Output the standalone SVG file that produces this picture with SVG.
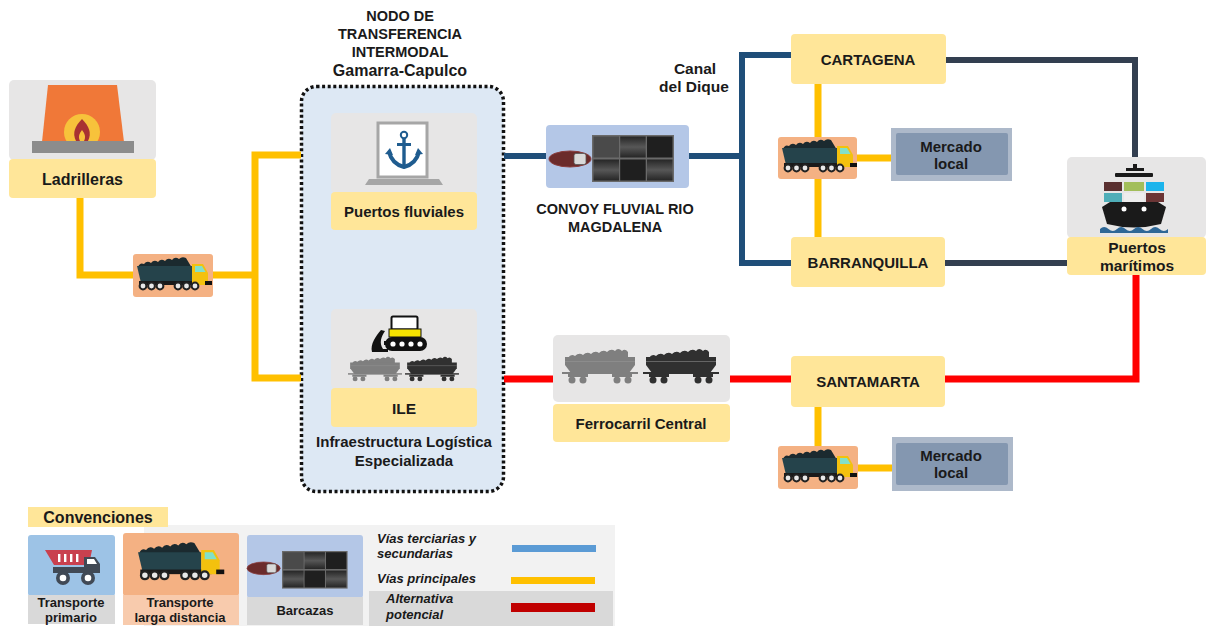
<svg xmlns="http://www.w3.org/2000/svg" width="1207" height="626" viewBox="0 0 1207 626">
  <defs>
    <style>
      .t { font-family: "Liberation Sans", Arial, sans-serif; font-weight: 700; fill: #1a1a1a; text-anchor: middle; }
      .ti { font-family: "Liberation Sans", Arial, sans-serif; font-weight: 700; font-style: italic; fill: #1a1a1a; }
      .bg { fill: #E7E6E6; }
      .tag { fill: #FFE699; }
      .haul { fill: #F4B183; }
      .road { stroke: #FFC000; stroke-width: 7; fill: none; }
      .river { stroke: #1F4E79; stroke-width: 6; fill: none; }
      .sea { stroke: #333F50; stroke-width: 6; fill: none; }
      .rail { stroke: #FF0000; stroke-width: 7; fill: none; }
      .mkt-o { fill: #ADB9CA; }
      .mkt-i { fill: #8497B0; }
    </style>
    <linearGradient id="cellShade" x1="0" y1="0" x2="0" y2="1">
      <stop offset="0" stop-color="#262626"/>
      <stop offset="0.5" stop-color="#575757"/>
      <stop offset="1" stop-color="#262626"/>
    </linearGradient>
    <!-- long-haul coal truck, drawn in an 80x43 frame -->
    <g id="truck">
      <path d="M5,13 q2,-5 6,-3 q3,-4 7,-1 q3,-4 7,-1 q3,-4 7,-1 q3,-4 7,-1 q3,-4 7,-1 q3,-3 7,-1 L59,14 L5,14 Z" fill="#1b2a2f"/>
      <path d="M4,12 H59 V29 H8 Z" fill="#25434B"/>
      <rect x="6" y="27" width="62" height="4" fill="#1a1a1a"/>
      <path d="M59,10 H70 L75,19 V31 H59 Z" fill="#F3C10E"/>
      <path d="M62,12 H69 L72.5,18 H62 Z" fill="#82E0C9"/>
      <rect x="72" y="27" width="7" height="4" fill="#111"/>
      <g fill="#E8E8E8" stroke="#222" stroke-width="2">
        <circle cx="10" cy="32" r="3.4"/>
        <circle cx="18.5" cy="32" r="3.4"/>
        <circle cx="27" cy="32" r="3.4"/>
        <circle cx="45" cy="32" r="3.4"/>
        <circle cx="53.5" cy="32" r="3.4"/>
        <circle cx="62" cy="32" r="3.4"/>
      </g>
    </g>
    <!-- hopper wagon, 76x33 frame, colour taken from the use element -->
    <g id="wagon">
      <path d="M6,6 q3,-5 7,-2 q4,-4 8,-1 q4,-4 8,-1 q4,-4 8,-1 q4,-4 8,-1 q4,-4 8,-1 q3,-4 7,0 q3,-3 6,1 V8 H6 Z"/>
      <path d="M3,5 H73 V13 L67,21 H9 L3,13 Z"/>
      <rect x="3" y="9" width="70" height="1" fill="#9a9a9a" opacity="0.5"/>
      <rect x="0" y="20" width="76" height="2"/>
      <rect x="6" y="22" width="20" height="3"/>
      <rect x="50" y="22" width="20" height="3"/>
      <circle cx="10" cy="28" r="3.5"/>
      <circle cx="21" cy="28" r="3.5"/>
      <circle cx="55" cy="28" r="3.5"/>
      <circle cx="66" cy="28" r="3.5"/>
    </g>
    <!-- barge block of 3x2 holds, 82x47 frame -->
    <g id="barges">
      <rect x="0" y="0" width="82" height="47" fill="#6a6a6a"/>
      <rect x="1.5" y="1.5" width="25.5" height="21" fill="#4a4a4a"/>
      <rect x="28.2" y="1.5" width="25.5" height="21" fill="url(#cellShade)"/>
      <rect x="55" y="1.5" width="25.5" height="21" fill="#1f1f1f"/>
      <rect x="1.5" y="24.5" width="25.5" height="21" fill="url(#cellShade)"/>
      <rect x="28.2" y="24.5" width="25.5" height="21" fill="#1f1f1f"/>
      <rect x="55" y="24.5" width="25.5" height="21" fill="url(#cellShade)"/>
    </g>
    <!-- push tug -->
    <g id="tug">
      <ellipse cx="21" cy="8" rx="21" ry="8" fill="#6B2B2B" stroke="#8a3d3d" stroke-width="1"/>
      <rect x="25" y="2.5" width="12" height="11" rx="2" fill="#D9D9D9" stroke="#555" stroke-width="0.8"/>
    </g>
  </defs>

  <!-- intermodal transfer node container -->
  <g id="nodo-transferencia">
    <rect x="301.5" y="86.5" width="202" height="405" rx="15" fill="#DDE8F4" stroke="#111" stroke-width="3.5" stroke-dasharray="3 2.6"/>
    <text class="t" font-size="14.5" x="400" y="21">NODO DE</text>
    <text class="t" font-size="14.5" x="400" y="39">TRANSFERENCIA</text>
    <text class="t" font-size="14.5" x="400" y="57">INTERMODAL</text>
    <text class="t" font-size="16" x="400" y="76">Gamarra-Capulco</text>
  </g>

  <!-- connectors -->
  <g id="connectors">
    <!-- main roads (yellow) -->
    <path class="road" d="M80,197 V275 H134"/>
    <path class="road" d="M212,275 H255"/>
    <path class="road" d="M301,155 H255 V378 H301"/>
    <path class="road" d="M818,84 V237"/>
    <path class="road" d="M856,158 H892"/>
    <path class="road" d="M818,407 V446"/>
    <path class="road" d="M857,468 H892"/>
    <!-- Magdalena river and Canal del Dique (blue) -->
    <path class="river" d="M504,156 H546"/>
    <path class="river" d="M689,156 H742"/>
    <path class="river" d="M791,55 H742 V263 H791"/>
    <!-- links to sea ports (dark slate) -->
    <path class="sea" d="M946,60 H1135 V157"/>
    <path class="sea" d="M945,263 H1067"/>
    <!-- potential rail alternative (red) -->
    <path class="rail" d="M504,379 H553"/>
    <path class="rail" d="M730,379 H791"/>
    <path class="rail" d="M945,379 H1136 V275"/>
  </g>

  <!-- brickworks -->
  <g id="ladrilleras">
    <rect class="bg" x="9" y="80" width="147" height="80" rx="5"/>
    <rect class="tag" x="9" y="159" width="147" height="39" rx="4"/>
    <path d="M48,85 H117 L124,142 H42 Z" fill="#F07838"/>
    <circle cx="82" cy="132" r="18" fill="#F7C23B"/>
    <path d="M82,119 C75,126 72,133 76,141 L88,141 C92,133 89,126 82,119 Z" fill="#A83232"/>
    <path d="M82,130 C79,134 78,137 80,141 L84,141 C86,137 85,134 82,130 Z" fill="#F7C23B"/>
    <rect x="32" y="141" width="102" height="12" fill="#8C8C8C"/>
    <text class="t" font-size="16" x="82.5" y="185">Ladrilleras</text>
  </g>

  <!-- truck between brickworks and the node -->
  <g id="camion-origen">
    <rect class="haul" x="133" y="254" width="80" height="43" rx="3"/>
    <use href="#truck" x="133" y="254"/>
  </g>

  <!-- river ports -->
  <g id="puertos-fluviales">
    <rect class="bg" x="331" y="113" width="146" height="80" rx="5"/>
    <rect class="tag" x="331" y="192" width="146" height="38" rx="4"/>
    <path d="M369,179 H439 L443,185 H365 Z" fill="#A6A6A6"/>
    <rect x="378" y="123" width="49" height="54" fill="#FFFFFF" stroke="#A6A6A6" stroke-width="3"/>
    <g fill="#1F5C8F" stroke="#1F5C8F">
      <circle cx="404" cy="135" r="3.2" fill="none" stroke-width="2"/>
      <rect x="402.3" y="138" width="3.4" height="28" stroke="none"/>
      <rect x="397" y="143" width="14" height="3" stroke="none"/>
      <path d="M389,152 Q392,164 404,167 Q416,164 419,152" fill="none" stroke-width="4"/>
      <path d="M385,154 L390,148 L393,155 Z" stroke="none"/>
      <path d="M423,154 L418,148 L415,155 Z" stroke="none"/>
    </g>
    <text class="t" font-size="15" x="404" y="217">Puertos fluviales</text>
  </g>

  <!-- specialised logistics infrastructure -->
  <g id="ile">
    <rect class="bg" x="331" y="309" width="146" height="80" rx="5"/>
    <rect class="tag" x="331" y="388" width="146" height="39" rx="4"/>
    <path d="M372,352 C370,344 376,336 381,330 L385,331 C381,337 379,343 383,349 L388,349 L388,352 Z" fill="#111"/>
    <rect x="384" y="341" width="6" height="4" fill="#111"/>
    <rect x="391.5" y="316.5" width="26" height="13" rx="1.5" fill="#FFFFFF" stroke="#111" stroke-width="2"/>
    <rect x="389" y="329" width="32" height="8" fill="#F5E200" stroke="#111" stroke-width="1"/>
    <rect x="385" y="337" width="42" height="14" rx="7" fill="#111"/>
    <g fill="#FFFFFF">
      <circle cx="393" cy="344" r="2.6"/>
      <circle cx="402" cy="344" r="2.6"/>
      <circle cx="411" cy="344" r="2.6"/>
      <circle cx="420" cy="344" r="2.6"/>
    </g>
    <use href="#wagon" transform="translate(348,359) scale(0.71)" fill="#7F7F7F"/>
    <use href="#wagon" transform="translate(405,359) scale(0.71)" fill="#303030"/>
    <text class="t" font-size="15.5" x="404" y="414">ILE</text>
    <text class="t" font-size="15" x="404" y="447">Infraestructura Logística</text>
    <text class="t" font-size="15" x="404" y="466">Especializada</text>
  </g>

  <!-- Magdalena river convoy -->
  <g id="convoy">
    <rect x="546" y="125" width="143" height="63" rx="4" fill="#B4C7E7"/>
    <use href="#tug" x="549" y="151"/>
    <use href="#barges" x="592" y="135"/>
    <text class="t" font-size="14.5" x="615" y="214">CONVOY FLUVIAL RIO</text>
    <text class="t" font-size="14.5" x="615" y="232">MAGDALENA</text>
  </g>

  <g id="canal-del-dique">
    <text class="t" font-size="15.5" x="695" y="74">Canal</text>
    <text class="t" font-size="15.5" x="694" y="92">del Dique</text>
  </g>

  <g id="cartagena">
    <rect class="tag" x="791" y="34" width="155" height="50" rx="4"/>
    <text class="t" font-size="15" x="868" y="65">CARTAGENA</text>
  </g>

  <g id="camion-cartagena">
    <rect class="haul" x="778" y="137" width="79" height="42" rx="3"/>
    <use href="#truck" x="778" y="136"/>
  </g>

  <g id="mercado-norte">
    <rect class="mkt-o" x="891" y="128" width="121" height="53"/>
    <rect class="mkt-i" x="896" y="133" width="112" height="42" rx="2"/>
    <text class="t" font-size="15" x="951" y="152">Mercado</text>
    <text class="t" font-size="15" x="951" y="169">local</text>
  </g>

  <g id="barranquilla">
    <rect class="tag" x="791" y="237" width="154" height="50" rx="4"/>
    <text class="t" font-size="15" x="868" y="268">BARRANQUILLA</text>
  </g>

  <!-- sea ports -->
  <g id="puertos-maritimos">
    <rect class="bg" x="1067" y="157" width="139" height="81" rx="5"/>
    <rect class="tag" x="1067" y="237" width="139" height="38" rx="4"/>
    <rect x="1133" y="164" width="4" height="7" fill="#1a1a1a"/>
    <rect x="1126" y="168" width="18" height="3" fill="#1a1a1a"/>
    <rect x="1115" y="173" width="38" height="4" rx="1" fill="#1a1a1a"/>
    <rect x="1104" y="182" width="18" height="9" fill="#5A3030"/>
    <rect x="1124" y="182" width="20" height="9" fill="#A2BE5A"/>
    <rect x="1146" y="182" width="18" height="9" fill="#1CB4EC"/>
    <rect x="1104" y="193" width="18" height="9" fill="#4FAEB8"/>
    <rect x="1124" y="193" width="20" height="9" fill="#EDEDED"/>
    <rect x="1146" y="193" width="18" height="9" fill="#6B3535"/>
    <path d="M1110,202 H1158 L1166,207 L1161,224 Q1134,231 1107,224 L1102,207 Z" fill="#1a1a1a"/>
    <circle cx="1124" cy="209" r="2.5" fill="#FFFFFF"/>
    <circle cx="1144" cy="209" r="2.5" fill="#FFFFFF"/>
    <path d="M1100,229 q4,-4 8.5,0 t8.5,0 t8.5,0 t8.5,0 t8.5,0 t8.5,0 t8.5,0 t8.5,0 V233 H1100 Z" fill="#2E6796"/>
    <text class="t" font-size="15.5" x="1137" y="253">Puertos</text>
    <text class="t" font-size="15.5" x="1137" y="271">marítimos</text>
  </g>

  <!-- central railway -->
  <g id="ferrocarril">
    <rect class="bg" x="553" y="335" width="177" height="67" rx="5"/>
    <rect class="tag" x="553" y="404" width="177" height="38" rx="4"/>
    <use href="#wagon" x="562" y="352" fill="#7F7F7F"/>
    <use href="#wagon" x="643" y="352" fill="#303030"/>
    <text class="t" font-size="15" x="641" y="429">Ferrocarril Central</text>
  </g>

  <g id="santamarta">
    <rect class="tag" x="791" y="356" width="154" height="51" rx="4"/>
    <text class="t" font-size="15" x="868" y="387">SANTAMARTA</text>
  </g>

  <g id="camion-santamarta">
    <rect class="haul" x="778" y="446" width="80" height="43" rx="3"/>
    <use href="#truck" x="778" y="446"/>
  </g>

  <g id="mercado-sur">
    <rect class="mkt-o" x="892" y="437" width="121" height="54"/>
    <rect class="mkt-i" x="896" y="443" width="112" height="42" rx="2"/>
    <text class="t" font-size="15" x="951" y="461">Mercado</text>
    <text class="t" font-size="15" x="951" y="478">local</text>
  </g>

  <!-- legend -->
  <g id="convenciones">
    <rect x="144" y="525" width="471" height="101" fill="#F2F2F2"/>
    <rect x="28" y="507" width="140" height="20" fill="#FFE699"/>
    <text class="t" font-size="16" x="98" y="523">Convenciones</text>

    <!-- primary haulage -->
    <rect x="28" y="535" width="87" height="61" rx="3" fill="#9DC3E6"/>
    <rect x="28" y="595" width="87" height="29" fill="#D9D9D9"/>
    <path d="M45,550 H92 L89,565 H54 Z" fill="#C9414F"/>
    <g fill="#FFFFFF">
      <rect x="58" y="554" width="2.4" height="8"/>
      <rect x="64" y="554" width="2.4" height="8"/>
      <rect x="70" y="554" width="2.4" height="8"/>
      <rect x="76" y="554" width="2.4" height="8"/>
    </g>
    <path d="M84,557 H95 L100,564 V573 H84 Z" fill="#404955"/>
    <path d="M87,559 H94 L97,564 H87 Z" fill="#FFFFFF"/>
    <rect x="53" y="567" width="47" height="6" fill="#404955"/>
    <circle cx="63" cy="578" r="7" fill="#404955"/>
    <circle cx="63" cy="578" r="3.3" fill="#FFFFFF"/>
    <circle cx="88" cy="578" r="7" fill="#404955"/>
    <circle cx="88" cy="578" r="3.3" fill="#FFFFFF"/>
    <text class="t" font-size="13" x="71" y="607">Transporte</text>
    <text class="t" font-size="13" x="71" y="622">primario</text>

    <!-- long-distance haulage -->
    <rect x="123" y="533" width="116" height="63" rx="3" fill="#F4B183"/>
    <rect x="123" y="595" width="116" height="30" fill="#F8CBAD"/>
    <use href="#truck" transform="translate(133.4,538.5) scale(1.15)"/>
    <text class="t" font-size="13" x="180" y="607">Transporte</text>
    <text class="t" font-size="13" x="180" y="622">larga distancia</text>

    <!-- barges -->
    <rect x="247" y="535" width="116" height="63" rx="3" fill="#B4C7E7"/>
    <rect x="247" y="597" width="116" height="28" fill="#D9D9D9"/>
    <use href="#tug" transform="translate(247,562) scale(0.79)"/>
    <use href="#barges" transform="translate(282,551) scale(0.8)"/>
    <text class="t" font-size="13" x="305" y="615">Barcazas</text>

    <!-- route types -->
    <rect x="369" y="591" width="244" height="35" fill="#D9D9D9"/>
    <text class="ti" font-size="13" x="377" y="543">Vías terciarias y</text>
    <text class="ti" font-size="13" x="377" y="558">secundarias</text>
    <rect x="512" y="545" width="84" height="7" fill="#5B9BD5"/>
    <text class="ti" font-size="13" x="377" y="583">Vías principales</text>
    <rect x="511" y="577" width="84" height="7" fill="#FFC000"/>
    <text class="ti" font-size="13" x="386" y="603">Alternativa</text>
    <text class="ti" font-size="13" x="386" y="619">potencial</text>
    <rect x="511" y="603" width="84" height="9" fill="#C00000"/>
  </g>
</svg>
